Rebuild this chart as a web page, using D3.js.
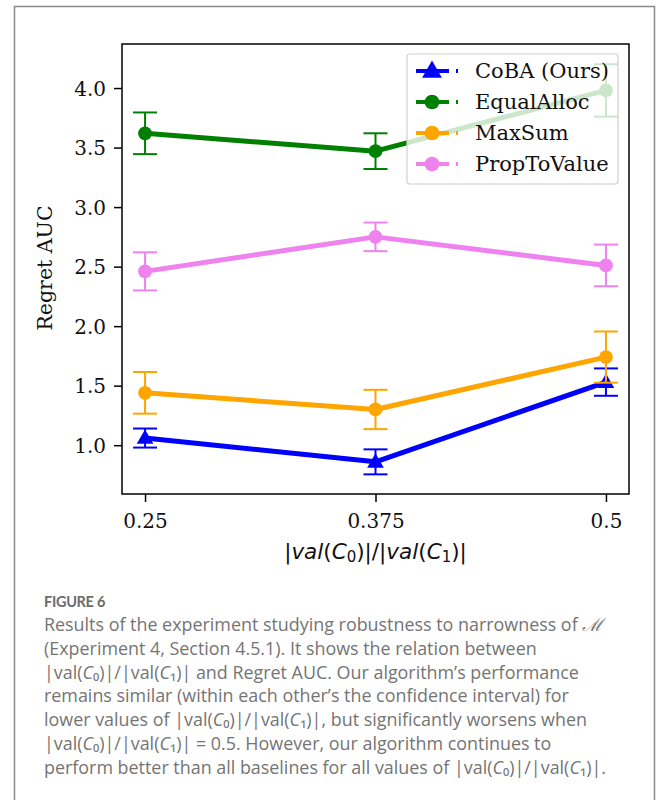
<!DOCTYPE html>
<html>
<head>
<meta charset="utf-8">
<script src="https://cdn.jsdelivr.net/npm/d3@7"></script>
<style>
  html, body { margin: 0; padding: 0; background: #fff; }
  svg { display: block; }
</style>
</head>
<body>
<svg id="fig" width="657" height="800"></svg>
<script>
// ---- data ----
const xValues = [0.25, 0.375, 0.5];
const xTickLabels = ["0.25", "0.375", "0.5"];
const yTicks = [1.0, 1.5, 2.0, 2.5, 3.0, 3.5, 4.0];

const seriesNames = ["CoBA (Ours)", "EqualAlloc", "MaxSum", "PropToValue"];
const seriesColors = ["#0000ff", "#008000", "#ffa500", "#ee82ee"];
const seriesMarkers = ["triangle", "circle", "circle", "circle"];

const cobaMean = [1.06, 0.86, 1.53];
const cobaErr = [0.08, 0.105, 0.115];
const equalMean = [3.62, 3.47, 3.98];
const equalErr = [0.175, 0.15, 0.22];
const maxSumMean = [1.44, 1.30, 1.74];
const maxSumErr = [0.175, 0.165, 0.215];
const propMean = [2.46, 2.75, 2.51];
const propErr = [0.16, 0.12, 0.175];

const means = [cobaMean, equalMean, maxSumMean, propMean];
const errs = [cobaErr, equalErr, maxSumErr, propErr];

const captionTitle = "FIGURE 6";

// ---- layout ----
const svg = d3.select("#fig");
const plot = { left: 122, right: 629, top: 44, bottom: 494 };

const x = d3.scaleLinear()
  .domain([0.25 - 0.0125, 0.5 + 0.0125])
  .range([plot.left, plot.right]);
const y = d3.scaleLinear()
  .domain([0.59, 4.37])
  .range([plot.bottom, plot.top]);

// outer frame
svg.append("rect")
  .attr("x", 14.5).attr("y", 6.5)
  .attr("width", 640).attr("height", 800)
  .attr("fill", "none").attr("stroke", "#8a8a8a").attr("stroke-width", 1.5);

const serif = "'DejaVu Serif', serif";

// axes
const gx = svg.append("g")
  .attr("transform", `translate(0,${plot.bottom})`)
  .call(d3.axisBottom(x).tickValues(xValues)
    .tickFormat((d, i) => xTickLabels[i]).tickSize(8).tickPadding(7));
const gy = svg.append("g")
  .attr("transform", `translate(${plot.left},0)`)
  .call(d3.axisLeft(y).tickValues(yTicks)
    .tickFormat(d3.format(".1f")).tickSize(8).tickPadding(8));
[gx, gy].forEach(g => {
  g.select(".domain").remove();
  g.selectAll("line").attr("stroke", "#000").attr("stroke-width", 1.5);
  g.selectAll("text").attr("font-family", serif).attr("font-size", 20).attr("fill", "#111");
});
gx.selectAll("text").attr("dy", "0.95em");
gy.selectAll("text").attr("dy", "0.35em");

// series
const line = d3.line().x((d, i) => x(xValues[i])).y(d => y(d));
const capHalf = 12;

function drawMarker(g, type, cx, cy, color, size) {
  if (type === "triangle") {
    g.append("path")
      .attr("d", d3.symbol().type(d3.symbolTriangle).size(size)())
      .attr("transform", `translate(${cx},${cy + 1})`)
      .attr("fill", color);
  } else {
    g.append("circle").attr("cx", cx).attr("cy", cy)
      .attr("r", Math.sqrt(size / Math.PI)).attr("fill", color);
  }
}

const layers = svg.append("g");
means.forEach((m, s) => {
  const g = layers.append("g");
  const color = seriesColors[s];
  g.append("path").datum(m)
    .attr("d", line)
    .attr("fill", "none").attr("stroke", color)
    .attr("stroke-width", 5).attr("stroke-linejoin", "round");
  m.forEach((v, i) => {
    const cx = x(xValues[i]);
    const lo = y(v - errs[s][i]), hi = y(v + errs[s][i]);
    g.append("line").attr("x1", cx).attr("x2", cx).attr("y1", lo).attr("y2", hi)
      .attr("stroke", color).attr("stroke-width", 2);
    [lo, hi].forEach(yy => g.append("line")
      .attr("x1", cx - capHalf).attr("x2", cx + capHalf).attr("y1", yy).attr("y2", yy)
      .attr("stroke", color).attr("stroke-width", 2));
    drawMarker(g, seriesMarkers[s], cx, y(v), color, seriesMarkers[s] === "triangle" ? 120 : 150);
  });
});

// axes box
svg.append("rect")
  .attr("x", plot.left).attr("y", plot.top)
  .attr("width", plot.right - plot.left).attr("height", plot.bottom - plot.top)
  .attr("fill", "none").attr("stroke", "#000").attr("stroke-width", 1.5);

// legend
const lg = svg.append("g");
lg.append("rect")
  .attr("x", 407).attr("y", 54).attr("width", 211).attr("height", 130)
  .attr("rx", 3).attr("fill", "#fff").attr("fill-opacity", 0.8)
  .attr("stroke", "#d0d0d0").attr("stroke-width", 1.2);
seriesNames.forEach((name, s) => {
  const cy = 71 + s * 31;
  const color = seriesColors[s];
  lg.append("line").attr("x1", 416).attr("x2", 449).attr("y1", cy).attr("y2", cy)
    .attr("stroke", color).attr("stroke-width", 4);
  lg.append("rect").attr("x", 456).attr("y", cy - 2).attr("width", 2).attr("height", 4)
    .attr("fill", color);
  drawMarker(lg, seriesMarkers[s], 432, cy, color, 170);
  lg.append("text").attr("x", 475).attr("y", cy + 7)
    .attr("font-family", serif).attr("font-size", 21).attr("fill", "#111")
    .text(name);
});

// axis titles
svg.append("text")
  .attr("transform", `translate(52,${268}) rotate(-90)`)
  .attr("text-anchor", "middle")
  .attr("font-family", serif).attr("font-size", 20.5).attr("fill", "#111")
  .text("Regret AUC");

const xl = svg.append("text")
  .attr("x", x(0.375)).attr("y", 559)
  .attr("text-anchor", "middle")
  .attr("font-family", "'DejaVu Sans', sans-serif").attr("font-size", 21.5).attr("fill", "#111");
function mathRatio(t, italicStyle) {
  const parts = [["|", 0], ["val", 1], ["(", 0], ["C", 1], ["0", 2], [")|/|", 0],
                 ["val", 1], ["(", 0], ["C", 1], ["1", 2], [")|", 0]];
  parts.forEach(([txt, k]) => {
    const ts = t.append("tspan").text(txt);
    if (k === 1) ts.attr("font-style", italicStyle);
    if (k === 2) ts.attr("font-size", "0.7em").attr("baseline-shift", "-22%");
  });
}
mathRatio(xl, "italic");

// caption
const capFont = "'Open Sans', sans-serif";
svg.append("text").attr("x", 44).attr("y", 607)
  .attr("font-family", "Lato, sans-serif").attr("font-size", 14.5).attr("font-weight", 700)
  .attr("fill", "#6b6b6b").attr("letter-spacing", -0.3).text(captionTitle);

const capLines = [
  [["Results of the experiment studying robustness to narrowness of "], ["ℳ", "m"]],
  [["(Experiment 4, Section 4.5.1). It shows the relation between"]],
  [["R"], [" and Regret AUC. Our algorithm’s performance"]],
  [["remains similar (within each other’s the confidence interval) for"]],
  [["lower values of "], ["R"], [", but significantly worsens when"]],
  [["R"], [" = 0.5. However, our algorithm continues to"]],
  [["perform better than all baselines for all values of "], ["R"], ["."]]
];
capLines.forEach((parts, i) => {
  const t = svg.append("text").attr("x", 44).attr("y", 631 + i * 23.8)
    .attr("font-family", capFont).attr("font-size", 17.9).attr("font-weight", 400)
    .attr("fill", "#747474");
  parts.forEach(p => {
    if (p[0] === "R") {
      // ratio written with subscript digits on the same baseline
      const segs = [["|val(", 0], ["C", 1], ["₀)|/|val(", 0], ["C", 1], ["₁)|", 0]];
      segs.forEach(([txt, k]) => {
        const ts = t.append("tspan").text(txt);
        if (k === 1) ts.attr("font-style", "italic");
      });
    } else if (p[1] === "m") {
      t.append("tspan").attr("font-family", "'DejaVu Serif', serif").attr("font-style", "italic").text(p[0]);
    } else {
      t.append("tspan").text(p[0]);
    }
  });
});
</script>
</body>
</html>
